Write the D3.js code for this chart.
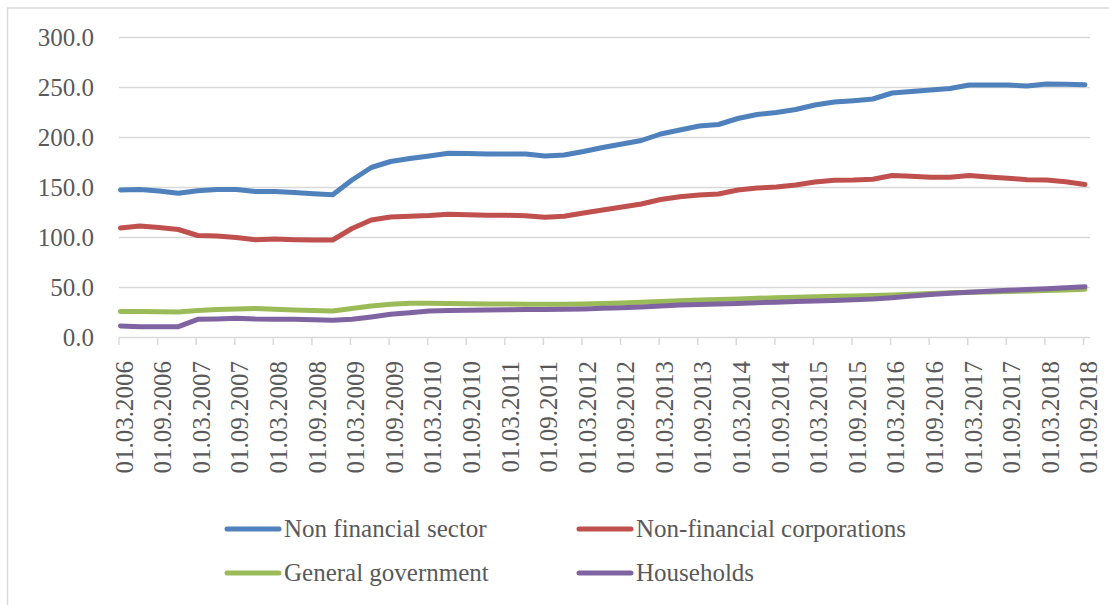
<!DOCTYPE html>
<html>
<head>
<meta charset="utf-8">
<script src="https://cdn.jsdelivr.net/npm/d3@7"></script>
<style>
  html, body { margin: 0; padding: 0; background: #fff; }
  svg { display: block; }
</style>
</head>
<body>
<svg id="chart" width="1109" height="605"></svg>
<script>
// ---- DATA ----
const categories = (function () {
  const out = [];
  for (let y = 2006; y <= 2018; y++) {
    for (const m of ["03", "06", "09", "12"]) {
      if (y === 2018 && m === "12") continue;
      out.push("01." + m + "." + y);
    }
  }
  return out;
})();

const nonFinancialSector = [147.5, 148, 146.5, 144.2, 146.8, 148, 148, 146, 146, 145, 143.8, 142.8,
  157.5, 170, 176, 179, 181.5, 184.3, 184, 183.5, 183.5, 183.5, 181.5, 182.5,
  186, 190, 193.5, 197, 203.5, 207.5, 211.5, 213, 219, 223, 225, 228, 232.5, 235.5,
  236.8, 238.5, 244.5, 246, 247.5, 249, 252.5, 252.5, 252.5, 251.5, 253.5, 253.3, 252.8];

const nonFinancialCorporations = [109.5, 111.5, 110, 108, 102, 101.5, 100, 97.8, 98.5, 97.8, 97.5, 97.5,
  109, 117.5, 120.5, 121.3, 122, 123.3, 122.8, 122.2, 122.2, 121.8, 120.2, 121.3,
  124.5, 127.5, 130.5, 133.5, 138, 140.8, 142.5, 143.5, 147.5, 149.5, 150.5, 152.5,
  155.5, 157.2, 157.5, 158.3, 162, 161.2, 160.2, 160.2, 162, 160.5, 159.3, 157.8, 157.5, 155.8, 153];

const generalGovernment = [26, 26, 25.8, 25.5, 27, 28, 28.5, 29, 28.2, 27.5, 27, 26.5,
  29, 31.5, 33.3, 34.3, 34.2, 34, 33.8, 33.5, 33.4, 33.3, 33.2, 33.3,
  33.5, 34, 34.5, 35.2, 36, 36.8, 37.5, 38, 38.5, 39.2, 39.8, 40.3, 40.8, 41.2,
  41.6, 42, 42.6, 43.3, 44, 44.7, 45.2, 45.6, 46, 46.5, 47, 47.6, 48.2];

const households = [11.5, 10.8, 10.8, 10.8, 18.2, 18.5, 19.2, 18.5, 18.3, 18.2, 17.8, 17.3,
  18.2, 20.5, 23.2, 24.8, 26.5, 27, 27.3, 27.5, 27.8, 28, 28.1, 28.2,
  28.5, 29.2, 29.8, 30.5, 31.5, 32.4, 33, 33.6, 34.1, 34.8, 35.3, 35.9, 36.4, 37.1,
  37.8, 38.4, 39.8, 41.5, 43, 44.3, 45.3, 46.2, 47.2, 48, 48.8, 49.7, 50.8];

const yTicks = [0, 50, 100, 150, 200, 250, 300];

const seriesNames = ["Non financial sector", "Non-financial corporations", "General government", "Households"];
const seriesColors = ["#4F81BD", "#C0504D", "#9BBB59", "#8064A2"];

// ---- CHART ----
const svg = d3.select("#chart");
const textColor = "#595959";
const gridColor = "#D9D9D9";
const serif = "'Liberation Serif', 'DejaVu Serif', serif";

// outer border
svg.append("rect")
  .attr("x", 7.5).attr("y", 8).attr("width", 1120).attr("height", 620)
  .attr("fill", "none").attr("stroke", gridColor).attr("stroke-width", 1.5);

const plotLeft = 119, plotRight = 1090;
const x = d3.scaleLinear().domain([0, categories.length - 1]).range([120.5, 1085]);
const y = d3.scaleLinear().domain([0, 300]).range([337.5, 37.5]);

// gridlines
svg.append("g").selectAll("line")
  .data(yTicks.filter(d => d > 0))
  .join("line")
  .attr("x1", plotLeft).attr("x2", plotRight)
  .attr("y1", d => y(d)).attr("y2", d => y(d))
  .attr("stroke", gridColor).attr("stroke-width", 1.5);

// y axis labels
svg.append("g").selectAll("text")
  .data(yTicks)
  .join("text")
  .attr("x", 94).attr("y", d => y(d)).attr("dy", "0.35em")
  .attr("text-anchor", "end")
  .attr("font-family", serif).attr("font-size", 25)
  .attr("fill", textColor)
  .text(d => d.toFixed(1));

// x axis line
svg.append("line")
  .attr("x1", plotLeft).attr("x2", plotRight)
  .attr("y1", y(0)).attr("y2", y(0))
  .attr("stroke", gridColor).attr("stroke-width", 1.5);

const labelIdx = d3.range(0, categories.length, 2);
// x ticks
svg.append("g").selectAll("line")
  .data(labelIdx)
  .join("line")
  .attr("x1", d => x(d) - 1.5).attr("x2", d => x(d) - 1.5)
  .attr("y1", y(0)).attr("y2", y(0) + 7.5)
  .attr("stroke", gridColor).attr("stroke-width", 1.5);

// x labels
svg.append("g").selectAll("text")
  .data(labelIdx)
  .join("text")
  .attr("transform", d => `translate(${x(d) + 3.5},361) rotate(-90)`)
  .attr("dy", "0.35em")
  .attr("text-anchor", "end")
  .attr("font-family", serif).attr("font-size", 25)
  .attr("fill", textColor)
  .text(d => categories[d]);

// lines
const allSeries = [nonFinancialSector, nonFinancialCorporations, generalGovernment, households];
const line = d3.line().x((d, i) => x(i)).y(d => y(d)).curve(d3.curveLinear);
// draw in Excel order: first series at the back
allSeries.forEach((s, k) => {
  svg.append("path")
    .datum(s)
    .attr("d", line)
    .attr("fill", "none")
    .attr("stroke", seriesColors[k])
    .attr("stroke-width", 5)
    .attr("stroke-linejoin", "round")
    .attr("stroke-linecap", "round");
});

// legend
const legendPos = [
  { lx: 227, ty: 529 },
  { lx: 579, ty: 529 },
  { lx: 227, ty: 573 },
  { lx: 579, ty: 573 }
];
const lg = svg.append("g");
seriesNames.forEach((name, k) => {
  const p = legendPos[k];
  lg.append("line")
    .attr("x1", p.lx).attr("x2", p.lx + 52)
    .attr("y1", p.ty).attr("y2", p.ty)
    .attr("stroke", seriesColors[k]).attr("stroke-width", 5)
    .attr("stroke-linecap", "round");
  lg.append("text")
    .attr("x", p.lx + 57).attr("y", p.ty).attr("dy", "0.33em")
    .attr("font-family", serif).attr("font-size", 25)
    .attr("fill", textColor)
    .text(name);
});
</script>
</body>
</html>
